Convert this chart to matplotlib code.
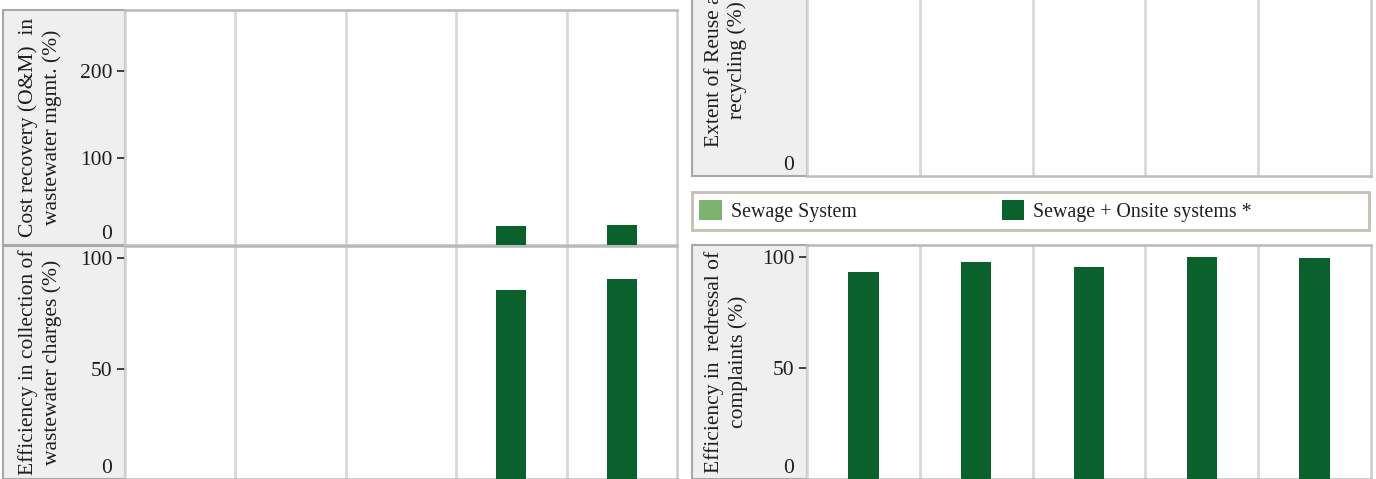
import numpy as np
import matplotlib
matplotlib.use('Agg')
import matplotlib.pyplot as plt
from matplotlib.patches import Rectangle, Patch
from matplotlib.transforms import ScaledTranslation

#-------------------------------------------------------------------------------
# Data (column headers are cropped out of the reference, so only positions)
#-------------------------------------------------------------------------------

n_cols = 5
series_names = ['Sewage System', 'Sewage + Onsite systems *']

cost_recovery_sewage = [np.nan, np.nan, np.nan, np.nan, np.nan]
cost_recovery_onsite = [np.nan, np.nan, np.nan, 21.8, 23.0]

collection_sewage = [np.nan, np.nan, np.nan, np.nan, np.nan]
collection_onsite = [np.nan, np.nan, np.nan, 85.6, 90.5]

reuse_sewage = [np.nan, np.nan, np.nan, np.nan, np.nan]
reuse_onsite = [np.nan, np.nan, np.nan, np.nan, np.nan]

redressal_sewage = [np.nan, np.nan, np.nan, np.nan, np.nan]
redressal_onsite = [93.2, 97.7, 95.4, 100.0, 99.5]

# colours / fonts
c_light = '#7db36f'
c_dark = '#0a612b'
c_grey_bg = '#efefef'
c_text = '#1e1e1e'

plt.rcParams['font.family'] = ['Liberation Serif', 'DejaVu Serif']
FS = 15.5      # axis titles / tick labels
FS_LEG = 14.3  # legend

W, H = 1376, 479
fig = plt.figure(figsize=(W / 100, H / 100), dpi=100)


def fbox(x0, y0, x1, y1):
    # pixel box (top-left origin) -> figure fraction [l, b, w, h]
    return [x0 / W, 1 - y1 / H, (x1 - x0) / W, (y1 - y0) / H]


def panel(lab_x0, x0, x1, y0, y1, sewage, onsite, ylim, yticks, ylabel,
          lab_cx, lab_cy=None):
    # grey label strip (drawn under the axes' tick labels)
    l, b, w, h = fbox(lab_x0, y0, x0, y1)
    fig.patches.append(Rectangle((l, b), w, h, transform=fig.transFigure,
                                 facecolor=c_grey_bg, edgecolor='#a8a8a8',
                                 lw=1.5, zorder=-1))
    ax = fig.add_axes(fbox(x0, y0, x1, y1))
    x = np.arange(n_cols)
    ax.bar(x, sewage, width=0.27, color=c_light, zorder=3)
    ax.bar(x, onsite, width=0.27, color=c_dark, zorder=3)
    ax.set_xlim(-0.5, n_cols - 0.5)
    ax.set_ylim(*ylim)
    ax.set_xticks([])
    for xs in np.arange(0.5, n_cols - 1, 1.0):
        ax.axvline(xs, color='#d8d8d8', lw=2, zorder=1)
    ax.spines['left'].set_color('#d4d4d4')
    ax.spines['top'].set_color('#b8b8b8')
    ax.spines['right'].set_color('#cacaca')
    ax.spines['bottom'].set_color('#bdbdbd')
    for s in ax.spines.values():
        s.set_linewidth(1.8)
    ax.set_yticks(yticks)
    ax.set_yticklabels([f'{t:g}' for t in yticks])
    ax.tick_params(axis='y', length=6, width=1.3, color='#333333', pad=3,
                   labelsize=FS, labelcolor=c_text)
    t0 = ax.yaxis.get_major_ticks()[0]
    t0.tick1line.set_visible(False)
    t0.label1.set_va('bottom')
    t0.label1.set_transform(t0.label1.get_transform() +
                            ScaledTranslation(0, 1 / 72, fig.dpi_scale_trans))
    if lab_cy is None:
        lab_cy = (y0 + y1) / 2
    fig.text(lab_cx / W, 1 - lab_cy / H, ylabel, rotation=90,
             ha='center', va='center', fontsize=FS, color=c_text,
             linespacing=1.25, multialignment='center')
    return ax


# left group
panel(3, 125, 677, 10, 245, cost_recovery_sewage, cost_recovery_onsite,
      (0, 270), [0, 100, 200],
      'Cost recovery (O&M)  in\nwastewater mgmt. (%)', 40)
panel(3, 125, 677, 246, 479, collection_sewage, collection_onsite,
      (0, 105.6), [0, 50, 100],
      'Efficiency in collection of\nwastewater charges (%)', 40)

# right group
panel(692, 807, 1371, -42, 176, reuse_sewage, reuse_onsite,
      (0, 100), [0],
      'Extent of Reuse and\nrecycling (%)', 726, lab_cy=60)
panel(692, 807, 1371, 245, 479, redressal_sewage, redressal_onsite,
      (0, 105.4), [0, 50, 100],
      'Efficiency in  redressal of\ncomplaints (%)', 726)

# legend box
l, b, w, h = fbox(692, 192, 1369, 230)
fig.patches.append(Rectangle((l, b), w, h, transform=fig.transFigure,
                             facecolor='white', edgecolor='#c4bfb2', lw=2,
                             zorder=-1))
handles = [Patch(facecolor=c_light), Patch(facecolor=c_dark)]
fig.legend(handles, series_names, loc='center left',
           bbox_to_anchor=(699 / W, 1 - 211 / H), frameon=False, ncol=2,
           fontsize=FS_LEG, handlelength=1.15, handleheight=1.15,
           handletextpad=0.45, columnspacing=7.3, borderpad=0,
           borderaxespad=0, labelcolor=c_text)

fig.savefig('out.png', dpi=100)
plt.close()
